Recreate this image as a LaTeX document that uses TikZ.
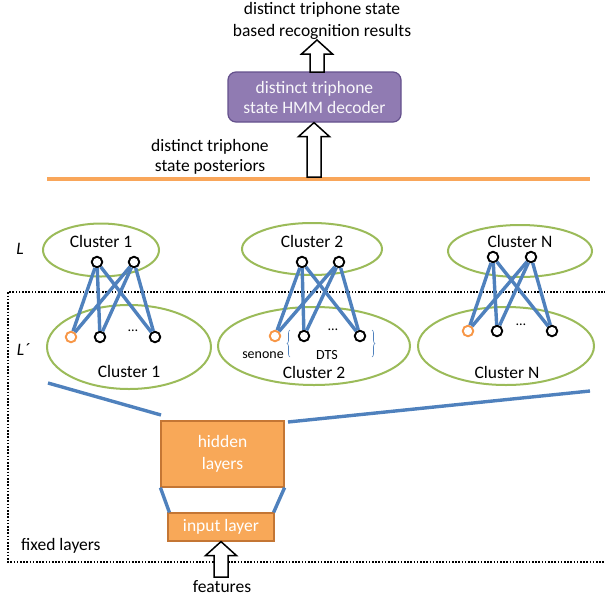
\documentclass[tikz,border=0pt]{standalone}
\usepackage{fontspec}
\setmainfont{Carlito}
\usetikzlibrary{shapes.geometric,calc,decorations.pathreplacing}
\definecolor{cgreen}{RGB}{155,187,89}
\definecolor{cblue}{RGB}{79,129,189}
\definecolor{corange}{RGB}{247,150,70}
\definecolor{corangeline}{RGB}{249,166,90}
\definecolor{cboxor}{RGB}{248,168,88}
\definecolor{cboxorb}{RGB}{196,118,52}
\definecolor{cpurple}{RGB}{144,123,178}
\definecolor{cpurpleb}{RGB}{100,80,140}
\newcommand{\hollowarrow}[2]{\draw[line width=1.5pt, fill=white, line join=miter] let \p1=(#1), \p2=(#2) in
  (\x1-7pt,\y1) -- (\x1-7pt,\y2-14pt) -- (\x1-15.5pt,\y2-14pt) -- (\x1,\y2) -- (\x1+15.5pt,\y2-14pt) -- (\x1+7pt,\y2-14pt) -- (\x1+7pt,\y1) -- cycle;}
\begin{document}
\begin{tikzpicture}[x=1pt,y=-1pt,
  txt/.style={font=\fontsize{17.5}{20}\selectfont, inner sep=0pt},
  small/.style={font=\fontsize{14}{16}\selectfont, inner sep=0pt},
  clus/.style={ellipse, draw=cgreen, line width=2pt, inner sep=0pt},
  unit/.style={circle, draw=black, line width=1.9pt, fill=white, minimum size=10.5pt, inner sep=0pt},
  senunit/.style={unit, draw=corange},
  link/.style={draw=cblue, line width=3.4pt},
  obox/.style={rectangle, fill=cboxor, draw=cboxorb, line width=1.2pt, text=white, align=center, font=\fontsize{17.5}{22}\selectfont, inner sep=0pt}]
\useasboundingbox (0,0) rectangle (605,603);

% top part
\node[txt, align=center] (res) at (322,21) {distinct triphone state\\[2pt]based recognition results};
\node[rectangle, rounded corners=8pt, fill=cpurple, draw=cpurpleb, line width=1.2pt, minimum width=173pt, minimum height=50pt, text=white!94!cpurple, align=center, font=\fontsize{17.5}{20}\selectfont, inner sep=0pt] (dec) at (314.5,97) {distinct triphone\\state HMM decoder};
\node[txt, align=center] (post) at (210,157) {distinct triphone\\state posteriors};
\coordinate (ol1) at (47,179);
\coordinate (ol2) at (590,179);
\draw[corangeline, line width=4pt] (ol1) -- (ol2);
\coordinate (a1s) at (317,72);
\coordinate (a1e) at (317,40);
\coordinate (a2s) at (314,177);
\hollowarrow{a1s}{a1e}
\hollowarrow{a2s}{dec.south}

% layer labels
\node[txt, font=\fontsize{17.5}{20}\itshape] (L) at (20,249) {L};
\node[txt, font=\fontsize{17.5}{20}\itshape] (Lp) at (23,350) {L\char"00B4};

% fixed layers frame
\draw[line width=1.6pt, dash pattern=on 1.6pt off 1.6pt] (606,292) -- (8,292) -- (8,562) -- (606,562);
\node[txt, anchor=west] (fixed) at (21,546) {fixed layers};

% cluster 1
\node[clus, minimum width=116pt, minimum height=53pt] (t1e) at (101,250) {};
\node[txt] (t1txt) at (101,241) {Cluster 1};
\node[clus, minimum width=164pt, minimum height=84pt] (b1e) at (129,347) {};
\node[txt] (b1txt) at (129,371) {Cluster 1};
\node[unit] (t1a) at (97,262) {};
\node[unit] (t1b) at (134,262) {};
\node[senunit] (b1o) at (71,337) {};
\node[unit] (b1a) at (100,337) {};
\node[small] (b1d) at (133,331) {…};
\node[unit] (b1b) at (155,337) {};
\foreach \s in {t1a,t1b} \foreach \d in {b1o,b1a,b1b} \draw[link] (\s) -- (\d);

% cluster 2
\node[clus, minimum width=140pt, minimum height=52pt] (t2e) at (312,249) {};
\node[txt] (t2txt) at (312,241) {Cluster 2};
\node[clus, minimum width=192pt, minimum height=78pt] (b2e) at (314,346) {};
\node[txt] (b2txt) at (314,372) {Cluster 2};
\node[unit] (t2a) at (302,262) {};
\node[unit] (t2b) at (339,262) {};
\node[senunit] (b2o) at (275,336) {};
\node[unit] (b2a) at (304,336) {};
\node[small] (b2d) at (333,330) {…};
\node[unit] (b2b) at (360,336) {};
\foreach \s in {t2a,t2b} \foreach \d in {b2o,b2a,b2b} \draw[link] (\s) -- (\d);
\node[small] (sen) at (263,355) {senone};
\node[small] (dts) at (327,355) {DTS};
\coordinate (brl1) at (290,357);
\coordinate (brl2) at (290,330);
\coordinate (brr1) at (372,330);
\coordinate (brr2) at (372,357);
\draw[cblue, line width=0.6pt, decorate, decoration={brace, amplitude=3pt}] (brl1) -- (brl2);
\draw[cblue, line width=0.6pt, decorate, decoration={brace, amplitude=3pt}] (brr1) -- (brr2);

% cluster N
\node[clus, minimum width=144pt, minimum height=52pt] (tNe) at (520,251) {};
\node[txt] (tNtxt) at (520,241) {Cluster N};
\node[clus, minimum width=176pt, minimum height=78pt] (bNe) at (506,346) {};
\node[txt] (bNtxt) at (507,372) {Cluster N};
\node[unit] (tNa) at (493,257) {};
\node[unit] (tNb) at (531,257) {};
\node[senunit] (bNo) at (468,331) {};
\node[unit] (bNa) at (497,331) {};
\node[small] (bNd) at (521,325) {…};
\node[unit] (bNb) at (552,331) {};
\foreach \s in {tNa,tNb} \foreach \d in {bNo,bNa,bNb} \draw[link] (\s) -- (\d);

% hidden and input layers
\node[obox, minimum width=123pt, minimum height=66pt] (hid) at (222.5,454) {hidden\\layers};
\node[obox, minimum width=106pt, minimum height=28pt, font=\fontsize{17.5}{20}\selectfont] (inp) at (221,527) {input layer};
\coordinate (fl1) at (48,383);
\coordinate (fl2) at (161,415);
\coordinate (fr1) at (288,422);
\coordinate (fr2) at (590,391);
\draw[link] (fl1) -- (fl2);
\draw[link] (fr1) -- (fr2);
\draw[link] (hid.south west) -- ([xshift=2pt]inp.north west);
\draw[link] (hid.south east) -- ([xshift=-1pt]inp.north east);

% features
\node[txt] (feat) at (222,587) {features};
\coordinate (a3s) at (221,577);
\hollowarrow{a3s}{inp.south}
\end{tikzpicture}
\end{document}
